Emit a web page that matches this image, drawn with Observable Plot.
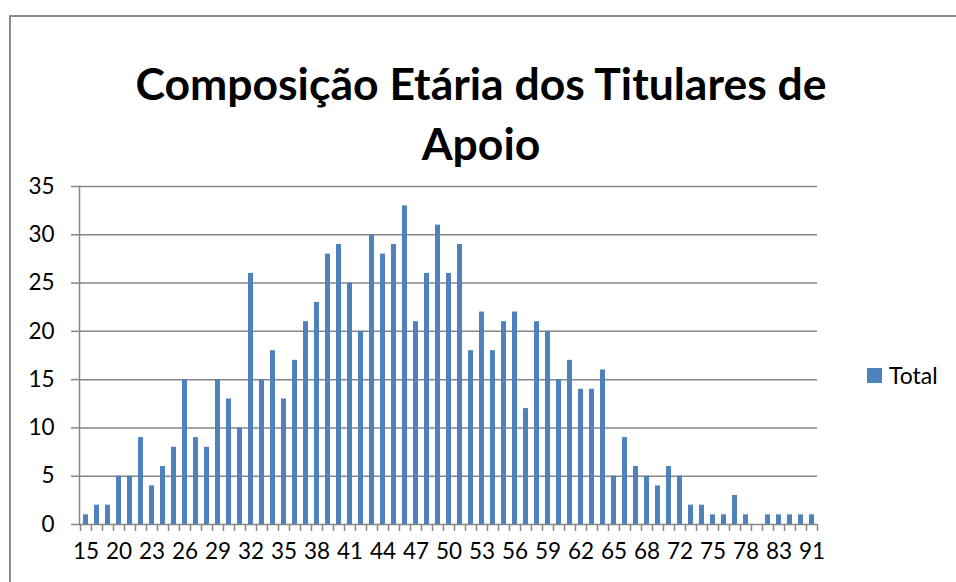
<!DOCTYPE html>
<html>
<head>
<meta charset="utf-8">
<script src="https://cdn.jsdelivr.net/npm/d3@7"></script>
<script src="https://cdn.jsdelivr.net/npm/@observablehq/plot@0.6"></script>
<style>
  html, body { margin: 0; padding: 0; background: #fff; }
  #wrap { position: relative; width: 956px; height: 582px; overflow: hidden; font-family: Lato, "Open Sans", sans-serif; }
  #border { position: absolute; left: 9px; top: 15px; width: 1000px; height: 700px; border: 2px solid #8c8c8c; box-sizing: border-box; }
  #title { position: absolute; left: 0; width: 962px; top: 53px; text-align: center; font-weight: bold; font-size: 44.5px; line-height: 60px; color: #000; }
  #chart { position: absolute; left: 0; top: 0; }
  #legend { position: absolute; left: 867px; top: 361px; display: flex; align-items: center; font-size: 23px; color: #000; }
  #legend .sw { width: 15px; height: 15px; background: #4f81bd; margin-right: 7px; }
</style>
</head>
<body>
<div id="wrap">
  <div id="border"></div>
  <div id="title">Composição Etária dos Titulares de<br>Apoio</div>
  <div id="chart"></div>
  <div id="legend"><div class="sw"></div><span>Total</span></div>
</div>
<script>
const ages = [15,18,19,20,21,22,23,24,25,26,27,28,29,30,31,32,33,34,35,36,37,38,39,40,41,42,43,44,45,46,47,48,49,50,51,52,53,54,55,56,57,58,59,60,61,62,63,64,65,66,67,68,69,70,72,73,74,75,76,77,78,79,81,83,85,87,91];
const totals = [1,2,2,5,5,9,4,6,8,15,9,8,15,13,10,26,15,18,13,17,21,23,28,29,25,20,30,28,29,33,21,26,31,26,29,18,22,18,21,22,12,21,20,15,17,14,14,16,5,9,6,5,4,6,5,2,2,1,1,3,1,0,1,1,1,1,1];
const xTickAges = [15,20,23,26,29,32,35,38,41,44,47,50,53,56,59,62,65,68,72,75,78,83,91];
const yTicks = [0,5,10,15,20,25,30,35];
const seriesName = "Total";

const data = ages.map((a, i) => ({age: a, total: totals[i]}));
const grey = "#868686";
const blue = "#4f81bd";
const lastAge = ages[ages.length - 1];

const chart = Plot.plot({
  width: 956,
  height: 582,
  marginLeft: 79,
  marginRight: 139,
  marginTop: 186,
  marginBottom: 58,
  style: {fontFamily: "Lato, 'Open Sans', sans-serif", fontSize: "22.5px", color: "#000", background: "transparent", overflow: "visible"},
  x: {type: "band", domain: ages, paddingInner: 0.58, paddingOuter: 0.29, label: null},
  y: {domain: [0, 35], label: null},
  marks: [
    Plot.gridY(yTicks, {stroke: grey, strokeOpacity: 1, strokeWidth: 1.5}),
    Plot.frame({anchor: "left", stroke: grey, strokeWidth: 1.5}),
    Plot.barY(data, {x: "age", y: "total", fill: blue}),
    Plot.ruleX(ages, {x: d => d, y1: 0, y2: 0, insetBottom: -7, dx: -5.5, stroke: grey, strokeWidth: 1.5}),
    Plot.ruleX([lastAge], {x: d => d, y1: 0, y2: 0, insetBottom: -7, dx: 5.5, stroke: grey, strokeWidth: 1.5}),
    Plot.axisY(yTicks, {tickSize: 8, tickPadding: 17, stroke: grey, strokeWidth: 1.5, fill: "#000", label: null}),
    Plot.axisX(xTickAges, {tickSize: 0, tickPadding: 19, fill: "#000", label: null})
  ]
});
document.getElementById("chart").appendChild(chart);
</script>
</body>
</html>
